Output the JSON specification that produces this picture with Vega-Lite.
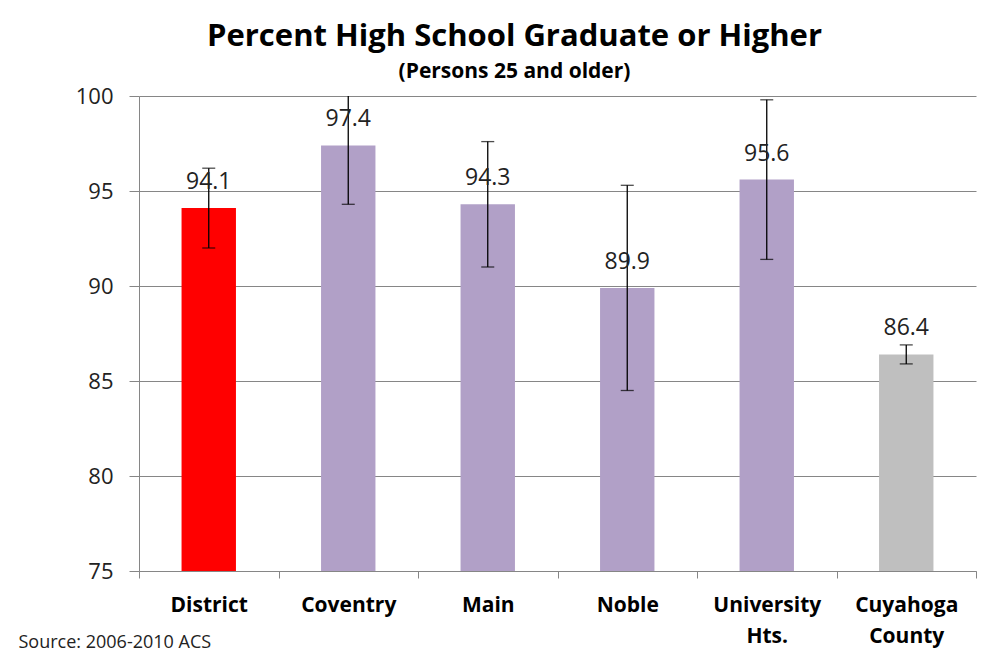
{
  "$schema": "https://vega.github.io/schema/vega-lite/v6.json",
  "width": 837,
  "height": 475,
  "autosize": {"type": "none"},
  "padding": {"left": 139, "top": 96, "right": 17, "bottom": 92},
  "background": "white",
  "title": {
    "text": "Percent High School Graduate or Higher",
    "subtitle": "(Persons 25 and older)",
    "anchor": "middle",
    "frame": "group",
    "dx": -43,
    "offset": 2,
    "font": "Open Sans",
    "fontSize": 31,
    "fontWeight": "bold",
    "color": "#000000",
    "subtitleFont": "Open Sans",
    "subtitleFontSize": 21,
    "subtitleFontWeight": "bold",
    "subtitleColor": "#000000",
    "subtitlePadding": 8
  },
  "data": {
    "values": [
      {"area": "District", "value": 94.1, "low": 92.0, "high": 96.2, "group": "district"},
      {"area": "Coventry", "value": 97.4, "low": 94.3, "high": 100.5, "group": "school"},
      {"area": "Main", "value": 94.3, "low": 91.0, "high": 97.6, "group": "school"},
      {"area": "Noble", "value": 89.9, "low": 84.5, "high": 95.3, "group": "school"},
      {"area": "University Hts.", "value": 95.6, "low": 91.4, "high": 99.8, "group": "school"},
      {"area": "Cuyahoga County", "value": 86.4, "low": 85.9, "high": 86.9, "group": "county"}
    ]
  },
  "encoding": {
    "x": {
      "field": "area",
      "type": "nominal",
      "sort": null,
      "scale": {"paddingInner": 0, "paddingOuter": 0},
      "axis": {
        "title": "Source: 2006-2010 ACS",
        "titleFont": "Open Sans",
        "titleFontSize": 18,
        "titleFontWeight": "normal",
        "titleColor": "#222222",
        "titleAnchor": "start",
        "titleAlign": "left",
        "titleBaseline": "alphabetic",
        "titleX": -121,
        "titleY": 76,
        "labelAngle": 0,
        "labelExpr": "split(datum.label, ' ')",
        "labelFont": "Open Sans",
        "labelFontSize": 21,
        "labelFontWeight": "bold",
        "labelColor": "#000000",
        "labelBaseline": "top",
        "labelLineHeight": 31,
        "labelPadding": 16,
        "tickBand": "extent",
        "tickSize": 7,
        "tickColor": "#868686",
        "domainColor": "#868686",
        "grid": false
      }
    }
  },
  "layer": [
    {
      "mark": {"type": "bar", "width": {"band": 0.39}, "clip": true},
      "encoding": {
        "y": {
          "field": "value",
          "type": "quantitative",
          "scale": {"domain": [75, 100], "nice": false, "zero": false},
          "axis": {
            "title": null,
            "values": [75, 80, 85, 90, 95, 100],
            "labelFont": "Open Sans",
            "labelFontSize": 22,
            "labelColor": "#222222",
            "labelPadding": 16,
            "tickSize": 10,
            "tickColor": "#868686",
            "domainColor": "#868686",
            "gridColor": "#868686",
            "grid": true
          }
        },
        "color": {
          "field": "group",
          "type": "nominal",
          "scale": {"domain": ["district", "school", "county"], "range": ["#FF0000", "#B1A0C7", "#BFBFBF"]},
          "legend": null
        }
      }
    },
    {
      "mark": {"type": "rule", "color": "#000000", "strokeWidth": 1.3, "clip": true},
      "encoding": {
        "y": {"field": "low", "type": "quantitative"},
        "y2": {"field": "high"}
      }
    },
    {
      "transform": [{"filter": "datum.high <= 100"}],
      "mark": {"type": "tick", "color": "#000000", "size": 13, "thickness": 1.3},
      "encoding": {"y": {"field": "high", "type": "quantitative"}}
    },
    {
      "mark": {"type": "tick", "color": "#000000", "size": 13, "thickness": 1.3},
      "encoding": {"y": {"field": "low", "type": "quantitative"}}
    },
    {
      "mark": {"type": "text", "baseline": "alphabetic", "dy": -19, "font": "Open Sans", "fontSize": 23, "color": "#222222"},
      "encoding": {
        "y": {"field": "value", "type": "quantitative"},
        "text": {"field": "value", "type": "quantitative", "format": ".1f"}
      }
    }
  ],
  "config": {
    "view": {"stroke": null}
  }
}
